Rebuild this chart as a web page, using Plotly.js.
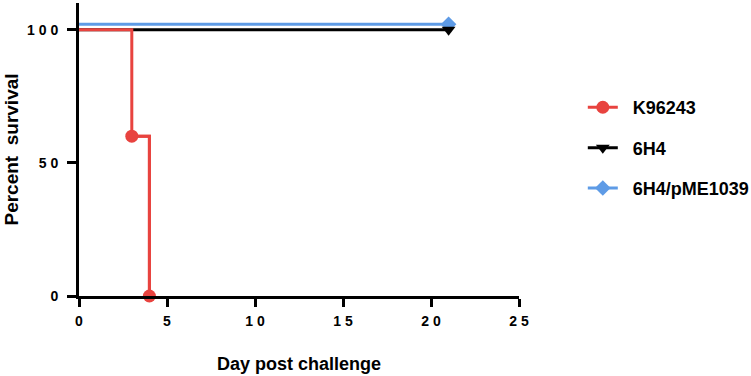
<!DOCTYPE html>
<html><head><meta charset="utf-8">
<script src="https://cdn.plot.ly/plotly-3.0.1.min.js"></script>
<style>body{margin:0;background:#fff}#c{width:751px;height:376px}</style>
</head><body><div id="c"></div>
<script>
// Full survival step paths
const k96243Days = [0, 3, 4];
const k96243Surv = [100, 60, 0];
const h4Days = [0, 21];
const h4Surv = [100, 100];
const pmeDays = [0, 21];
const pmeSurv = [102, 102];
// Event / end points carrying a symbol
const k96243MarkDays = [3, 4];
const k96243MarkSurv = [60, 0];
const h4MarkDays = [21];
const h4MarkSurv = [100];
const pmeMarkDays = [21];
const pmeMarkSurv = [102];
const seriesNames = ['K96243', '6H4', '6H4/pME1039'];
const xTickVals = [0, 5, 10, 15, 20, 25];
const xTickText = ['0', '5', '1 0', '1 5', '2 0', '2 5'];
const yTickVals = [0, 50, 100];
const yTickText = ['0', '5 0', '1 0 0'];

const red = '#e8433f', blue = '#5e9be6', black = '#000';
const pad = '\u00a0\u00a0';
function pathTrace(x, y, color) {
  return {x: x, y: y, mode: 'lines', line: {shape: 'hv', color: color, width: 3}, showlegend: false, hoverinfo: 'skip', cliponaxis: false};
}
function markTrace(x, y, color, symbol, size, name, group, rank) {
  return {x: x, y: y, name: pad + name, mode: 'lines+markers', line: {shape: 'hv', color: color, width: 3},
    marker: {symbol: symbol, size: size, color: color, opacity: 1}, legendgroup: group, legendrank: rank, cliponaxis: false};
}
const traces = [
  pathTrace(pmeDays, pmeSurv, blue),
  markTrace(pmeMarkDays, pmeMarkSurv, blue, 'diamond', 12, seriesNames[2], 'c', 3),
  pathTrace(h4Days, h4Surv, black),
  markTrace(h4MarkDays, h4MarkSurv, black, 'triangle-down', 12, seriesNames[1], 'b', 2),
  pathTrace(k96243Days, k96243Surv, red),
  markTrace(k96243MarkDays, k96243MarkSurv, red, 'circle', 13, seriesNames[0], 'a', 1)
];
const ff = 'Liberation Sans, Arial, sans-serif';
const layout = {
  width: 751, height: 376,
  margin: {l: 79, r: 232, t: 3, b: 80, autoexpand: false},
  paper_bgcolor: '#fff', plot_bgcolor: '#fff',
  font: {family: ff, color: '#000'},
  showlegend: true,
  legend: {x: 1.145, xanchor: 'left', y: 0.505, yanchor: 'middle', tracegroupgap: 14,
    font: {family: ff, size: 18, weight: 'bold', color: '#000'}, traceorder: 'grouped'},
  xaxis: {range: [0, 25], tickvals: xTickVals, ticktext: xTickText, showgrid: false, zeroline: false,
    showline: true, linecolor: '#000', linewidth: 3, ticks: 'outside', ticklen: 8, tickwidth: 3, tickcolor: '#000',
    ticklabelstandoff: 2,
    tickfont: {family: ff, size: 14, weight: 'bold'},
    title: {text: 'Day post challenge', font: {family: ff, size: 18, weight: 'bold'}, standoff: 30}},
  yaxis: {range: [0, 110], tickvals: yTickVals, ticktext: yTickText, showgrid: false, zeroline: false,
    showline: true, linecolor: '#000', linewidth: 3, ticks: 'outside', ticklen: 9, tickwidth: 3, tickcolor: '#000',
    ticklabelstandoff: 6,
    tickfont: {family: ff, size: 14, weight: 'bold'},
    title: {text: 'Percent  survival', font: {family: ff, size: 19, weight: 'bold'}, standoff: 4}}
};
Plotly.newPlot('c', traces, layout, {displayModeBar: false, staticPlot: true});
</script></body></html>
